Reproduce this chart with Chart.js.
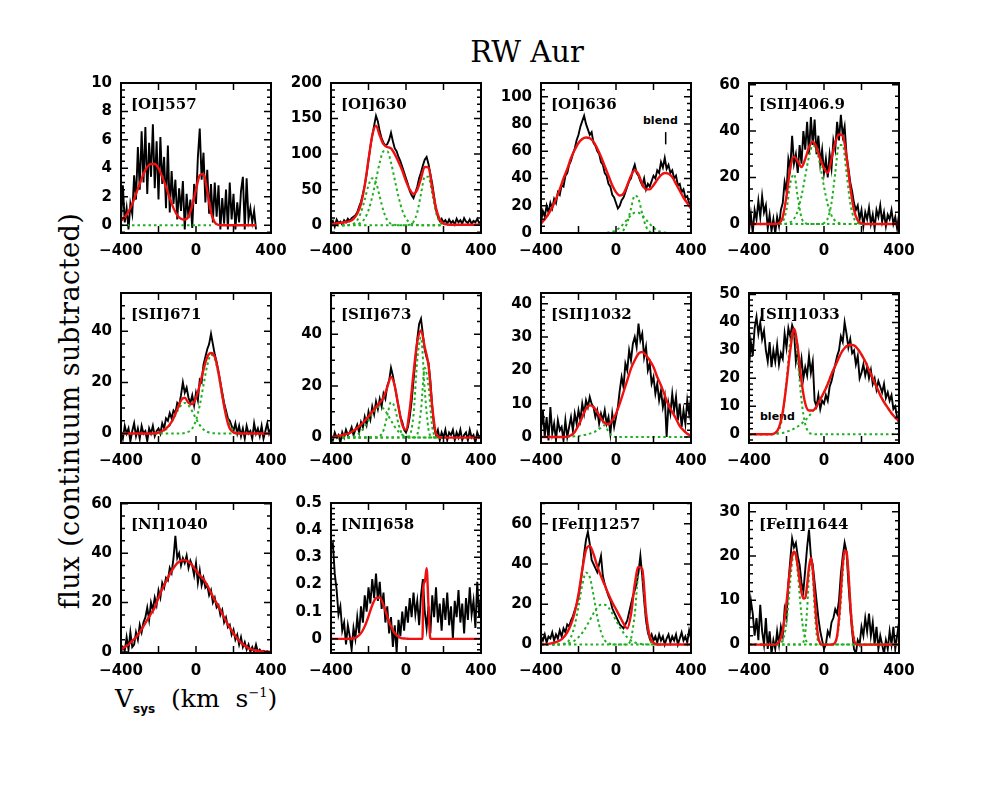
<!DOCTYPE html>
<html>
<head>
<meta charset="utf-8">
<script src="https://cdn.jsdelivr.net/npm/chart.js@4.4.1/dist/chart.umd.min.js"></script>
<style>
body { margin:0; background:#fff; width:981px; height:810px; position:relative; overflow:hidden; }
#title { position:absolute; left:427px; top:38px; width:200px; text-align:center; font-family:'DejaVu Serif'; font-size:29px; line-height:1; }
#ylab { position:absolute; left:69px; top:411px; width:480px; text-align:center; font-family:'DejaVu Serif'; font-size:27px; letter-spacing:0.5px; line-height:1; white-space:nowrap; transform:translate(-50%,-50%) rotate(-90deg); }
#xlab { position:absolute; left:115px; top:686px; font-family:'DejaVu Serif'; font-size:25px; line-height:1; white-space:nowrap; }
#xlab .sub { font-family:'DejaVu Sans'; font-weight:bold; font-size:12px; position:relative; top:6px; }
#xlab .sup { font-size:13px; position:relative; top:-10px; }
.lab { position:absolute; font-family:'DejaVu Serif'; font-weight:bold; font-size:15px; line-height:1; white-space:nowrap; }
.blend { position:absolute; font-family:'DejaVu Sans'; font-weight:bold; font-size:11px; line-height:1; }
</style>
</head>
<body>
<div id="title">RW Aur</div>
<div id="ylab">flux (continuum subtracted)</div>
<div id="xlab">V<span class="sub">sys</span> &nbsp;(km &nbsp;s<span class="sup">−1</span>)</div>
<div class="blend" style="left:643px;top:115px">blend</div>
<div class="blend" style="left:760px;top:411px">blend</div>
<script>
// velocity grids (km/s)
var vel = [-400,-390,-380,-370,-360,-350,-340,-330,-320,-310,
  -300,-290,-280,-270,-260,-250,-240,-230,-220,-210,
  -200,-190,-180,-170,-160,-150,-140,-130,-120,-110,
  -100,-90,-80,-70,-60,-50,-40,-30,-20,-10,
  0,10,20,30,40,50,60,70,80,90,
  100,110,120,130,140,150,160,170,180,190,
  200,210,220,230,240,250,260,270,280,290,
  300,310,320,330,340,350,360,370,380,390,
  400];
var fitV = [-400,-380,-360,-340,-320,-300,-280,-260,-240,-220,
  -200,-180,-160,-140,-120,-100,-80,-60,-40,-20,
  0,20,40,60,80,100,120,140,160,180,
  200,220,240,260,280,300,320,340,360,380,
  400];
var fitV10 = [-400,-380,-360,-340,-320,-300,-280,-260,-240,-220,
  -200,-180,-160,-140,-120,-100,-80,-60,-40,-20,
  0,20,40,60,80,88,92,100,110,120,
  128,132,140,160,180,200,220,240,260,280,
  300,320,340,360,380,400];

var labels = ['[OI]557','[OI]630','[OI]636','[SII]406.9','[SII]671','[SII]673',
  '[SII]1032','[SII]1033','[NI]1040','[NII]658','[FeII]1257','[FeII]1644'];
var xLabelTicks = [-400, 0, 400];
var xMajor = [-400, -200, 0, 200, 400];
var yt1 = [0,2,4,6,8,10], yt2 = [0,50,100,150,200], yt3 = [0,20,40,60,80,100], yt4 = [0,20,40,60];
var yt5 = [0,20,40], yt6 = [0,20,40], yt7 = [0,10,20,30,40], yt8 = [0,10,20,30,40,50];
var yt9 = [0,20,40,60], yt10 = [0,0.1,0.2,0.3,0.4,0.5], yt11 = [0,20,40,60], yt12 = [0,10,20,30];

// ---- [OI]557
var blk1 = [0.3,2.8,0.2,1.2,-0.3,1.5,0.8,3.5,1.8,5.5,
  2.5,6.6,3.0,6.9,2.2,5.8,3.4,7.1,2.6,5.9,
  1.8,6.2,2.9,4.8,1.2,5.6,0.9,3.8,1.5,3.2,
  0.4,2.6,1.0,3.1,-0.3,2.2,0.5,1.8,-0.2,2.9,
  1.5,4.8,6.8,3.2,5.1,1.6,3.9,0.8,2.9,0.2,
  3.0,0.6,2.8,-0.3,1.9,0.1,2.5,-0.3,3.0,0.4,
  2.2,-0.3,1.6,0.2,2.4,3.4,-0.3,3.3,0.4,1.2,
  0.2,1.0,-0.3,null,null,null,null,null,null,null,
  null];
var red1 = [0.3,0.55,0.95,1.5,2.2,2.9,3.6,4.1,4.3,4.3,
  4.0,3.4,2.7,1.9,1.2,0.7,0.45,0.4,0.6,1.4,
  2.5,3.5,3.6,2.4,0.9,0.2,0.02,0,0,0,
  0,0,0,0,0,0,0,null,null,null,
  null];
var grn1 = [0,0,0,0,0,0,0,0,0,0,
  0,0,0,0,0,0,0,0,0,0,
  0,0,0,0,0,null,null,null,null,null,
  null,null,null,null,null,null,null,null,null,null,
  null];

// ---- [OI]630
var blk2 = [2,6,-2,8,3,5,1,7,4,9,
  6,10,12,14,18,26,33,44,56,72,
  92,110,126,140,154,146,132,122,116,112,
  114,120,130,118,108,104,96,90,82,74,
  66,58,48,42,38,46,54,66,74,84,
  92,96,86,72,58,40,22,12,6,9,
  4,7,2,8,3,6,1,9,4,7,
  2,10,5,3,8,2,6,4,9,3,
  5];
var red2 = [1,2,3,3.5,4.5,5.5,9,16,30,56,
  92,126,140,126,114,110,108,100,89,77,
  62,50,44,50,66,82,81,52,24,8,
  2,1,0.5,0.5,0.5,0.5,0.5,0.5,0.5,0.5,
  0.5];
var grn2a = [0,0,0,0,0,0.5,2,7,18,36,
  56,66,60,40,20,7,2,0.5,0,0,
  0,0,0,0,0,0,0,0,0,0,
  0,null,null,null,null,null,null,null,null,null,
  null];
var grn2b = [0,0,0,0,0,0.1,0.3,1.2,3.6,9.4,
  21,40,64,88,104,104,88,64,40,21,
  9.4,3.6,1.2,0.3,0,0,0,0,0,0,
  0,null,null,null,null,null,null,null,null,null,
  null];
var grn2c = [0,0,0,0,0,0,0,0,0,0,
  0,0,0,0,0,0,0,0,0,0,
  0,0.8,4.7,18,44,68,68,44,18,4.7,
  0.8,null,null,null,null,null,null,null,null,null,
  null];

// ---- [OI]636
var blk3 = [8,16,12,20,15,22,18,25,22,30,
  28,35,34,42,44,50,53,58,62,68,
  72,78,82,86,80,76,72,74,66,64,
  60,58,52,50,44,42,36,34,28,26,
  22,18,20,24,26,30,34,38,40,46,
  50,44,42,38,35,40,32,36,34,38,
  42,40,46,44,52,48,55,47,50,44,
  46,40,42,35,36,30,32,26,27,22,
  18];
var red3 = [7,10,14,19,25,32,40,47,55,61,
  66,69,70,69.5,67,62,56,49,42,35,
  30,27.5,29,35,42,46,43,36,32,32,
  35,39,42.5,44,43.5,41,36,31,26,22,
  18];
var grn3a = [0,0,0,0,0,0,0,0,0,0,
  0,0,0,0,0,0,0,0,0,0,
  0,0.3,2.1,7.6,18,27.5,25,14,4.8,1,
  0.2,0,0,0,0,0,0,0,0,0,
  0];
var grn3b = [0,0,0,0,0,0,0,0,0,0,
  0,0,0,0,0,0,0,0.1,0.4,0.9,
  2,3.9,6.7,9.9,12.9,14.8,14.8,12.9,9.9,6.7,
  3.9,2,0.9,0.3,0.1,0,0,0,0,0,
  0];
var blendX = [265, 265], blendY = [65, 74];

// ---- [SII]406.9
var blk4 = [-3,4,-4,6,2,10,3,12,5,8,
  -2,4,-3,2,-4,3,-1,6,9,18,
  14,28,24,38,26,30,22,34,26,40,
  32,44,30,46,34,45,30,38,26,32,
  22,28,20,30,24,36,32,44,36,47,
  38,42,30,24,18,14,9,6,8,2,
  6,-1,5,2,7,0,4,-2,6,3,
  8,1,5,-1,4,2,6,0,3,-2,
  4];
var red4 = [0,0,0,0,0,0,0,0,0.3,3,
  12,24,29,27,24.5,28,33,35.5,33,28,
  24,22,28,35,38.5,38,29,16,6,1.5,
  0.3,0,0,0,0,0,0,0,0,0,
  0];
var grn4a = [null,null,null,null,null,null,null,null,0.1,1,
  6.2,17.5,21.4,11.5,2.7,0.3,0,0,0,0,
  0,0,0,0,0,0,0,0,0,0,
  0,0,0,null,null,null,null,null,null,null,
  null];
var grn4b = [null,null,null,null,null,null,null,null,0,0,
  0.2,0.7,2.2,5.7,12,20.6,29,33.8,32,25,
  16,8.4,3.7,1.3,0.4,0.1,0,0,0,0,
  0,0,0,null,null,null,null,null,null,null,
  null];
var grn4c = [null,null,null,null,null,null,null,null,0,0,
  0,0,0,0,0,0,0,0,0,0,
  0.4,2.4,9,22,34,34,22,9,2.4,0.4,
  0.1,0,0,null,null,null,null,null,null,null,
  null];

// ---- [SII]671
var blk5 = [1,-2,3,0,2,-3,1,4,-1,2,
  -2,3,0,1,-3,2,0,3,-1,1,
  2,0,4,2,6,5,8,6,9,8,
  12,11,15,20,16,18,14,12,15,11,
  16,13,21,20,27,30,33,35,39,35,
  31,28,24,20,16,12,9,6,5,3,
  1,4,0,3,-1,2,-2,3,0,1,
  -2,4,0,2,-1,3,-2,1,4,0,
  2];
var red5 = [0,0,0,0,0,0,0,0,0,0.1,
  0.4,1,2,3.5,6,9.5,13,14,12,11.5,
  14,19,25,30,31.5,30,24,15,7,2,
  0.5,0.1,0,0,0,0,0,0,0,0,
  0];
var grn5a = [null,null,null,null,null,null,null,null,null,0.07,
  0.24,0.7,1.6,3.3,5.8,8.7,11,12,11,8.7,
  5.8,3.3,1.6,0.7,0.24,0.07,0,0,0,0,
  0,0,0,null,null,null,null,null,null,null,
  null];
var grn5b = [null,null,null,null,null,null,null,null,null,0,
  0,0,0,0,0,0,0,0.2,0.7,2,
  5.2,11,19,26.6,30.8,29.3,23,14.6,7.8,3.4,
  1.2,0.3,0,null,null,null,null,null,null,null,
  null];

// ---- [SII]673
var blk6 = [1,-1,2,0,1,-2,2,0,3,1,
  2,4,1,3,5,2,6,4,8,5,
  10,7,12,9,14,11,15,12,17,15,
  20,22,27,24,20,16,12,8,6,3,
  2,4,8,14,22,30,38,44,46,40,
  34,31,29,22,12,4,1,3,-1,2,
  0,3,-1,2,1,3,-1,2,0,3,
  -1,1,2,-1,3,0,1,-2,2,0,
  1];
var red6 = [0.2,0.3,0.6,0.9,1.3,1.8,2.6,3.7,5,6.5,
  8.2,10,11.8,13.5,15.5,19.5,23.5,20,12,5,
  3,11,25,37,41.5,35,28,12,1.5,0.2,
  0,0,0,0,0,0,0,0,0,0,
  0];
var grn6a = [0,0,0,0,0.06,0.17,0.47,1.1,2.3,4.2,
  6.6,9.2,11.2,12,11.2,9.2,6.6,4.2,2.3,1.1,
  0.47,0.17,0.06,0,0,0,0,0,0,0,
  0,null,null,null,null,null,null,null,null,null,
  null];
var grn6b = [0,0,0,0,0,0,0,0,0,0,
  0,0,0,0.5,2.8,8.5,13.7,11.7,5.3,1.2,
  0.15,0,0,0,0,0,0,0,0,0,
  0,null,null,null,null,null,null,null,null,null,
  null];
var grn6c = [0,0,0,0,0,0,0,0,0,0,
  0,0,0,0,0,0,0,0,0,0,
  0,0.9,8.7,30,38.8,18.3,3.2,0.2,0,0,
  0,null,null,null,null,null,null,null,null,null,
  null];
var grn6d = [0,0,0,0,0,0,0,0,0,0,
  0,0,0,0,0,0,0,0,0,0,
  0,0,0,1.2,10.7,27,19.9,4.2,0.26,0,
  0,null,null,null,null,null,null,null,null,null,
  null];

// ---- [SII]1032
var blk7 = [2,8,0,6,-1,9,1,4,-1,5,
  2,3,-1,5,0,3,6,2,7,4,
  8,5,10,7,11,9,12,10,9,6,
  8,4,7,5,8,4,6,1,7,3,
  6,9,14,18,15,22,20,26,23,28,
  30,27,34,29,31,24,27,20,22,16,
  18,13,16,11,14,9,12,0,10,7,
  13,8,12,5,10,3,8,4,11,7,
  12];
var red7 = [0,0,0,0,0,0,0,0.1,0.5,1.5,
  3.5,6,8.5,9.5,9,7.5,5.5,4.2,3.8,5,
  7,10,13.5,17,20.5,23,25,25.5,24.5,23,
  21,18,15.5,12.5,9.5,7.5,5.5,3.3,2,1,
  0.4];
var grn7 = [null,null,null,null,null,null,null,0,0.1,0.2,
  0.3,0.5,0.7,1.0,1.4,2,2.8,3.5,1.5,0.3,
  0,0,0,0,0,0,0,0,0,0,
  0,0,0,0,0,0,0,0,0,0,
  0];

// ---- [SII]1033
var blk8 = [24,33,28,38,42,36,40,34,37,30,
  26,33,24,30,26,32,25,29,27,36,
  31,38,35,39,37,26,30,22,27,20,
  24,21,28,22,26,12,10,14,9,12,
  11,14,12,17,19,22,25,28,30,35,
  33,40,36,31,34,29,30,25,28,20,
  22,25,21,24,20,23,18,20,16,19,
  17,15,18,13,15,12,14,9,10,6,
  4];
var red8 = [0,0,0,0,0,0,0,0.5,2.5,8,
  18,30,37.7,31,19,11,8.5,8.5,10,12.5,
  15,18,21.5,24.5,27.5,30,31.5,32,31.8,30.5,
  28.5,26,23,20,17,14,11.5,9.5,7.5,6,
  4.8];
var grn8a = [0,0,0,0,0,0,0,0.25,1.6,7,
  19,33,37,26.5,12.2,3.6,0.7,0.1,0,0,
  0,0,0,0,0,0,0,0,0,0,
  0,0,0,0,0,0,0,0,0,0,
  0];
var grn8b = [0,0,0,0,0,0,0.05,0.15,0.3,0.5,
  0.9,1.4,2,2.8,3.8,5,6.5,8.3,10,12.5,
  15,18,21.5,24.5,27.5,30,31.5,32,31.8,30.5,
  28.5,26,23,20,17,14,11.5,9.5,7.5,6,
  4.8];

// ---- [NI]1040
var blk9 = [0,2,0.5,6,1,8,2,3,8,5,
  11,8,12,14,18,13,20,17,22,19,
  25,22,28,26,30,29,34,32,38,47,
  38,40,35,38,36,39,34,37,35,31,
  36,28,33,27,30,26,27,23,25,20,
  22,18,19,15,17,12,14,10,11,7,
  9,5,7,3,6,2,4,1,3,0,
  2,0,3,0,1,0,0.5,0,0.3,0,
  0];
var red9 = [1,2,3,4.5,6,8,10.5,13,15.5,18,
  22,25.5,28.5,31.5,34,36,37,37.2,36.5,35,
  33,31,29.5,27,24,21,18.5,15.5,12.5,10,
  7.5,5.5,3.8,2.5,1.6,1,0.6,0.3,0.2,0.1,
  0];

// ---- [NII]658
var blk10 = [0.33,0.35,0.24,0.18,0.09,0.12,0.03,0.06,-0.02,0.05,
  0.01,-0.04,0.04,0.0,0.08,0.02,0.12,0.06,0.16,0.10,
  0.19,0.13,0.22,0.15,0.24,0.14,0.21,0.11,0.17,0.06,
  0.12,0.02,0.08,-0.03,0.05,-0.05,0.07,0.01,0.10,0.03,
  0.12,0.06,0.15,0.08,0.17,0.09,0.14,0.05,0.16,0.22,
  0.10,0.04,0.12,0.02,0.16,0.08,0.19,0.06,0.13,0.03,
  0.15,0.07,0.17,0.05,0.12,0.0,0.14,0.08,0.18,0.06,
  0.13,0.02,0.15,0.07,0.19,0.09,0.14,0.04,0.21,0.08,
  0.16];
var red10 = [0,0,0,0,0,0.001,0.002,0.008,0.021,0.046,
  0.083,0.124,0.15,0.152,0.124,0.083,0.046,0.021,0.008,0.002,
  0.001,0,0,0,0,0,0.19,0.21,0.26,0.12,
  0.01,0,0,0,0,0,0,0,0,0,
  0,0,0,0,0,0];

// ---- [FeII]1257
var blk11 = [4,2,5,1,4,3,6,2,5,3,
  7,4,8,6,10,9,12,14,17,20,
  24,30,37,45,52,56,50,42,40,38,
  36,40,44,34,30,27,24,22,18,16,
  14,12,10,9,8,10,12,16,20,24,
  27,30,36,44,34,22,12,6,3,5,
  2,4,1,5,2,4,0,3,5,1,
  4,2,5,0,3,6,2,4,1,7,
  3];
var red11 = [0,0.1,0.3,0.7,1.2,2,3.5,6,10,16,
  25,37,47,49,45,39,34,29.5,25,21,
  17.5,14,10.5,8,15,30,38.5,37.5,16,4,
  0.8,0.1,0,0,0,0,0,0,0,0,
  0];
var grn11a = [0,0,0,0,0,0.05,0.27,1.1,3.8,9.6,
  19,29.5,35.7,33.5,24.6,14,6.2,2.1,0.6,0.14,
  0,0,0,0,0,0,0,0,0,0,
  0,0,0,null,null,null,null,null,null,null,
  null];
var grn11b = [0,0,0,0,0,0.09,0.22,0.5,1,2,
  3.6,5.8,8.7,12,15.5,18.3,19.8,19.8,18.3,15.5,
  12,8.7,5.8,3.6,2,1,0.5,0.22,0.09,0,
  0,0,0,null,null,null,null,null,null,null,
  null];
var grn11c = [0,0,0,0,0,0,0,0,0,0,
  0,0,0,0,0,0,0,0,0,0,
  0,0,0,0.24,2.9,15,34,34,15,2.9,
  0.24,0,0,null,null,null,null,null,null,null,
  null];

// ---- [FeII]1644
var blk12 = [5,10,7,2,6,1,9,3,0,6,
  -1,3,-2,1,-1,3,0,4,2,8,
  6,14,19,24,22,23,20,18,14,12,
  17,22,26,20,18,14,10,6,3,1,
  -1,0,3,2,5,6,8,7,10,16,
  20,23,21,14,8,3,-1,-2,1,0,
  4,2,6,3,7,2,5,0,4,-1,
  2,0,-2,1,-1,3,0,4,-1,2,
  5];
var red12 = [0,0,0,0,0,0,0,0,0,0,
  0,0,0,0,0,0.2,0.6,1.5,3.2,6,
  9.5,13.5,17.3,20,21,20.3,17.6,14.5,11.8,10.4,
  10.6,13.5,17.5,19.6,17,11,5,1.5,0.3,0,
  0,0,0,0,0,0.1,0.5,2,6,12,
  18,21.3,21,16.5,9.5,4,1,0.2,0,0,
  0,0,0,0,0,0,0,0,0,0,
  0,0,0,0,0,0,0,0,0,0,
  0];
var grn12a = [0,0,0,0,0,0,0,0,0,0,
  0,0,0,0,0,0,0.1,0.33,1,2.4,
  5.1,9.3,14.3,18.7,21,20,16.2,11.2,6.6,3.3,
  1.4,0.5,0.17,0.05,0,0,0,0,0,0,
  0,0,0,0,0,0,0,0,0,0,
  0,0,0,0,0,0,0,0,0,0,
  0,0,0,0,0,0,0,0,0,0,
  0,0,0,0,0,0,0,0,0,0,
  0];
var grn12b = [0,0,0,0,0,0,0,0,0,0,
  0,0,0,0,0,0,0,0,0,0,
  0,0,0,0,0,0,0,0,0.07,0.55,
  2.6,8,15.6,19.5,15.6,8,2.6,0.55,0.07,0,
  0,0,0,0,0,0,0,0,0,0,
  0,0,0,0,0,0,0,0,0,0,
  0,0,0,0,0,0,0,0,0,0,
  0,0,0,0,0,0,0,0,0,0,
  0];
var grn12c = [0,0,0,0,0,0,0,0,0,0,
  0,0,0,0,0,0,0,0,0,0,
  0,0,0,0,0,0,0,0,0,0,
  0,0,0,0,0,0,0,0,0,0,
  0,0,0,0,0,0,0.5,1.7,4.7,9.8,
  16.2,20.8,20.8,16.2,9.8,4.7,1.7,0.5,0.1,0,
  0,0,0,0,0,0,0,0,0,0,
  0,0,0,0,0,0,0,0,0,0,
  0];

// panel setup: y range, major ticks, minor step, series
var panels = [
  {ymin:-0.55, ymax:10,   yt:yt1,  minor:0.5,  blk:blk1,  fx:fitV,   fit:red1,  grn:[[fitV,grn1]]},
  {ymin:-11,   ymax:200,  yt:yt2,  minor:10,   blk:blk2,  fx:fitV,   fit:red2,  grn:[[fitV,grn2a],[fitV,grn2b],[fitV,grn2c]]},
  {ymin:0,     ymax:110,  yt:yt3,  minor:5,    blk:blk3,  fx:fitV,   fit:red3,  grn:[[fitV,grn3a],[fitV,grn3b]], mark:[blendX,blendY]},
  {ymin:-3.9,  ymax:60.7, yt:yt4,  minor:5,    blk:blk4,  fx:fitV,   fit:red4,  grn:[[fitV,grn4a],[fitV,grn4b],[fitV,grn4c]]},
  {ymin:-3.7,  ymax:55,   yt:yt5,  minor:5,    blk:blk5,  fx:fitV,   fit:red5,  grn:[[fitV,grn5a],[fitV,grn5b]]},
  {ymin:-2.1,  ymax:56,   yt:yt6,  minor:5,    blk:blk6,  fx:fitV,   fit:red6,  grn:[[fitV,grn6a],[fitV,grn6b],[fitV,grn6c],[fitV,grn6d]]},
  {ymin:-1.8,  ymax:43.2, yt:yt7,  minor:2,    blk:blk7,  fx:fitV,   fit:red7,  grn:[[fitV,grn7]]},
  {ymin:-3.1,  ymax:50.5, yt:yt8,  minor:2,    blk:blk8,  fx:fitV,   fit:red8,  grn:[[fitV,grn8a],[fitV,grn8b]]},
  {ymin:-0.4,  ymax:60.3, yt:yt9,  minor:5,    blk:blk9,  fx:fitV,   fit:red9,  grn:[]},
  {ymin:-0.052,ymax:0.5,  yt:yt10, minor:0.02, blk:blk10, fx:fitV10, fit:red10, grn:[]},
  {ymin:-4.2,  ymax:70.3, yt:yt11, minor:5,    blk:blk11, fx:fitV,   fit:red11, grn:[[fitV,grn11a],[fitV,grn11b],[fitV,grn11c]]},
  {ymin:-1.9,  ymax:32,   yt:yt12, minor:2,    blk:blk12, fx:vel,    fit:red12, grn:[[vel,grn12a],[vel,grn12b],[vel,grn12c]]}
];

var colLeft = [121, 331, 541, 749];
var rowTop = [83, 293, 503];

Chart.defaults.font.family = 'DejaVu Sans';
Chart.defaults.font.size = 15;
Chart.defaults.font.weight = 'bold';
Chart.defaults.color = '#000';

function pts(xs, ys) {
  return xs.map(function (x, i) { return {x: x, y: ys[i]}; });
}

function fmt(v) {
  return v < 0 ? '\u2212' + Math.abs(v) : String(v);
}

function makePanel(p, n) {
  var left = colLeft[n % 4], top = rowTop[Math.floor(n / 4)];
  var cv = document.createElement('canvas');
  cv.style.cssText = 'position:absolute;left:' + (left - 50) + 'px;top:' + (top - 10) + 'px;width:222px;height:188px';
  cv.width = 222; cv.height = 188;
  document.body.appendChild(cv);

  var lab = document.createElement('div');
  lab.className = 'lab';
  lab.style.left = (left + 10) + 'px';
  lab.style.top = (top + 14) + 'px';
  lab.textContent = labels[n];
  document.body.appendChild(lab);

  var sets = [];
  sets.push({data: pts(p.fx, p.fit), borderColor: '#f01010', borderWidth: 2.4, pointRadius: 0,
    cubicInterpolationMode: 'monotone', order: 0});
  if (p.mark) {
    sets.push({data: pts(p.mark[0], p.mark[1]), borderColor: '#000', borderWidth: 1.5, pointRadius: 0, order: 0});
  }
  p.grn.forEach(function (g) {
    sets.push({data: pts(g[0], g[1]), borderColor: '#1fb01f', borderWidth: 2, borderDash: [2.5, 3],
      pointRadius: 0, cubicInterpolationMode: 'monotone', order: 1});
  });
  sets.push({data: pts(vel, p.blk), borderColor: '#000', borderWidth: 1.9, pointRadius: 0, tension: 0, order: 2});

  var frame = {
    id: 'frame' + n,
    afterDatasetsDraw: function (chart) {
      var ctx = chart.ctx, a = chart.chartArea, xs = chart.scales.x, ys = chart.scales.y;
      ctx.save();
      ctx.strokeStyle = '#000';
      ctx.lineWidth = 2;
      ctx.strokeRect(a.left, a.top, a.right - a.left, a.bottom - a.top);
      ctx.lineWidth = 1.5;
      ctx.beginPath();
      xMajor.forEach(function (v) {
        var px = xs.getPixelForValue(v);
        ctx.moveTo(px, a.bottom); ctx.lineTo(px, a.bottom - 7);
        ctx.moveTo(px, a.top); ctx.lineTo(px, a.top + 7);
      });
      p.yt.forEach(function (v) {
        var py = ys.getPixelForValue(v);
        ctx.moveTo(a.left, py); ctx.lineTo(a.left + 7, py);
        ctx.moveTo(a.right, py); ctx.lineTo(a.right - 7, py);
      });
      for (var k = Math.ceil(p.ymin / p.minor); k * p.minor <= p.ymax + 1e-9; k++) {
        var py = ys.getPixelForValue(k * p.minor);
        ctx.moveTo(a.left, py); ctx.lineTo(a.left + 4, py);
        ctx.moveTo(a.right, py); ctx.lineTo(a.right - 4, py);
      }
      ctx.stroke();
      ctx.restore();
    }
  };

  new Chart(cv, {
    type: 'line',
    data: {datasets: sets},
    options: {
      responsive: false,
      animation: false,
      events: [],
      spanGaps: false,
      layout: {padding: {top: 10, right: 22, left: 0, bottom: 0}},
      plugins: {legend: {display: false}, tooltip: {enabled: false}},
      scales: {
        x: {
          type: 'linear', min: -400, max: 400,
          grid: {display: false, drawTicks: false}, border: {display: false},
          ticks: {padding: 9, maxRotation: 0, autoSkip: false, callback: fmt},
          afterBuildTicks: function (s) { s.ticks = xLabelTicks.map(function (v) { return {value: v}; }); },
          afterFit: function (s) { s.height = 28; s.paddingLeft = 0; s.paddingRight = 0; }
        },
        y: {
          type: 'linear', min: p.ymin, max: p.ymax,
          grid: {display: false, drawTicks: false}, border: {display: false},
          ticks: {padding: 9, autoSkip: false, callback: fmt},
          afterBuildTicks: function (s) { s.ticks = p.yt.map(function (v) { return {value: v}; }); },
          afterFit: function (s) { s.width = 50; s.paddingTop = 0; s.paddingBottom = 0; }
        }
      }
    },
    plugins: [frame]
  });
}

panels.forEach(makePanel);
</script>
</body>
</html>
